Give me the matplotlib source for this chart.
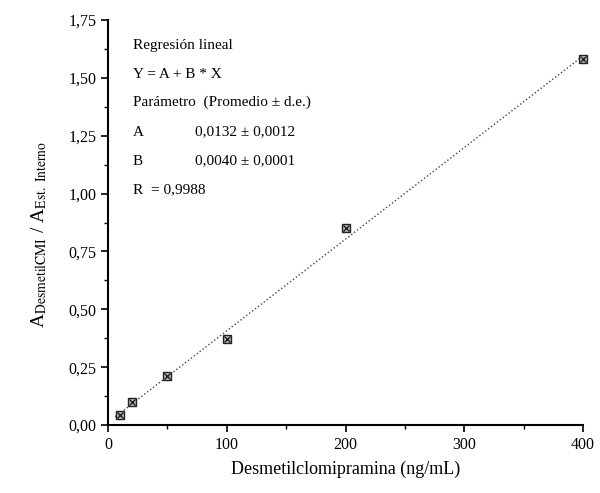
import numpy as np
import matplotlib.pyplot as plt
from matplotlib.ticker import MultipleLocator, FuncFormatter

# concentracion (ng/mL) y cociente de areas
conc = [10, 20, 50, 100, 200, 400]
ratio = [0.045, 0.10, 0.21, 0.37, 0.85, 1.58]

x_ticks = [0, 100, 200, 300, 400]
y_ticks = [0.00, 0.25, 0.50, 0.75, 1.00, 1.25, 1.50, 1.75]

info_lines = ["Regresión lineal", "Y = A + B * X", "Parámetro  (Promedio ± d.e.)"]
param_names = ["A", "B"]
param_vals = ["0,0132 ± 0,0012", "0,0040 ± 0,0001"]
r_text = "R  = 0,9988"

plt.rcParams['font.family'] = ['Liberation Serif', 'DejaVu Serif']
plt.rcParams['mathtext.fontset'] = 'stix'

fig = plt.figure(figsize=(6, 4.93), dpi=100)
ax = fig.add_axes([108/600, 1 - 425/493, 475/600, 405/493])

# recta de regresion
b, a = np.polyfit(conc, ratio, 1)
xx = np.linspace(6, 400, 50)
ax.plot(xx, a + b * xx, ':', color='#444444', lw=1.0, clip_on=False)

# marcadores: cuadrado con aspa
ax.plot(conc, ratio, 's', ms=6, mfc='#bbbbbb', mec='#222222', mew=1.0, ls='none', clip_on=False)
ax.plot(conc, ratio, 'x', ms=5, color='#222222', mew=1.0, ls='none', clip_on=False)

ax.set_xlim(0, 400)
ax.set_ylim(0, 1.75)
ax.set_xticks(x_ticks)
ax.set_yticks(y_ticks)
ax.xaxis.set_minor_locator(MultipleLocator(50))
ax.yaxis.set_minor_locator(MultipleLocator(0.125))
ax.yaxis.set_major_formatter(FuncFormatter(lambda v, p: f"{v:.2f}".replace('.', ',')))
ax.tick_params(which='major', direction='out', length=5, width=1.2, labelsize=11.5)
ax.tick_params(which='minor', direction='out', length=3, width=1.0)
for s in ['top', 'right']:
    ax.spines[s].set_visible(False)
for s in ['left', 'bottom']:
    ax.spines[s].set_linewidth(1.5)

ax.set_xlabel("Desmetilclomipramina (ng/mL)", fontsize=13, labelpad=6)
ax.set_ylabel(r"A$_{\mathrm{DesmetilCMI}}$ / A$_{\mathrm{Est.\ Interno}}$", fontsize=14)
ax.yaxis.set_label_coords(-0.125, 0.47)

# cuadro de texto
ys = [46, 74, 102]
for t, yp in zip(info_lines, ys):
    fig.text(133/600, 1 - yp/493, t, fontsize=11, va='center')
for n, v, yp in zip(param_names, param_vals, [132, 161]):
    fig.text(133/600, 1 - yp/493, n, fontsize=11, va='center')
    fig.text(195/600, 1 - yp/493, v, fontsize=11, va='center')
fig.text(133/600, 1 - 190/493, r_text, fontsize=11, va='center')

fig.savefig("out.png", dpi=100)
